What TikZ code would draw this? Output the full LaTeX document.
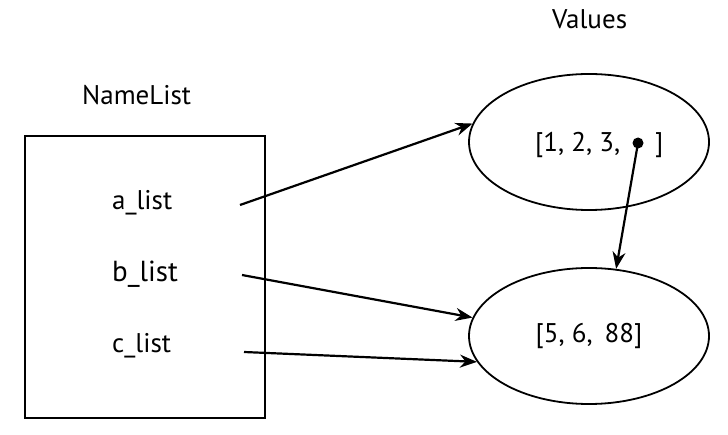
\documentclass[tikz,border=0pt]{standalone}
\usepackage{fontspec}
\setmainfont{PT Sans}
\usetikzlibrary{shapes.geometric,arrows.meta}
\begin{document}
\begin{tikzpicture}[x=1pt,y=-1pt,
	every node/.style={font=\fontsize{27}{32}\selectfont,inner sep=0pt},
	ptr/.style={-{Stealth[length=17pt,width=13pt]},line width=2.2pt},
	valnode/.style={draw,ellipse,line width=1.8pt,minimum width=240pt,minimum height=136pt}]
	\useasboundingbox (0,0) rectangle (728,435);
	% names
	\node[draw,line width=2.4pt,minimum width=240pt,minimum height=282pt] (box) at (145,277) {};
	\node[anchor=base west] (names) at (82,105) {NameList};
	\node[anchor=base west] (alist) at (112,210) {a\_list};
	\node[anchor=base west,font=\fontsize{29}{34}\selectfont] (blist) at (112,282) {b\_list};
	\node[anchor=base west] (clist) at (112,353) {c\_list};
	% values
	\node[anchor=base west] (values) at (552,29) {Values};
	\node[valnode] (va) at (589,142) {};
	\node[anchor=base west] (vatext) at (535,152) {[1, 2, 3,\hspace{35pt}]};
	\node[circle,fill,minimum size=11pt] (dot) at (638,143) {};
	\node[valnode] (vb) at (589,336) {[5, 6,\hspace{12pt}88]};
	% references
	\coordinate (astart) at (240,205);
	\coordinate (bstart) at (242,275);
	\coordinate (cstart) at (244,352);
	\draw[ptr] (astart) -- (va.171);
	\draw[ptr] (bstart) -- (vb.171);
	\draw[ptr] (cstart) -- (vb.193);
	\draw[ptr] (dot.center) -- (vb.68);
\end{tikzpicture}
\end{document}
